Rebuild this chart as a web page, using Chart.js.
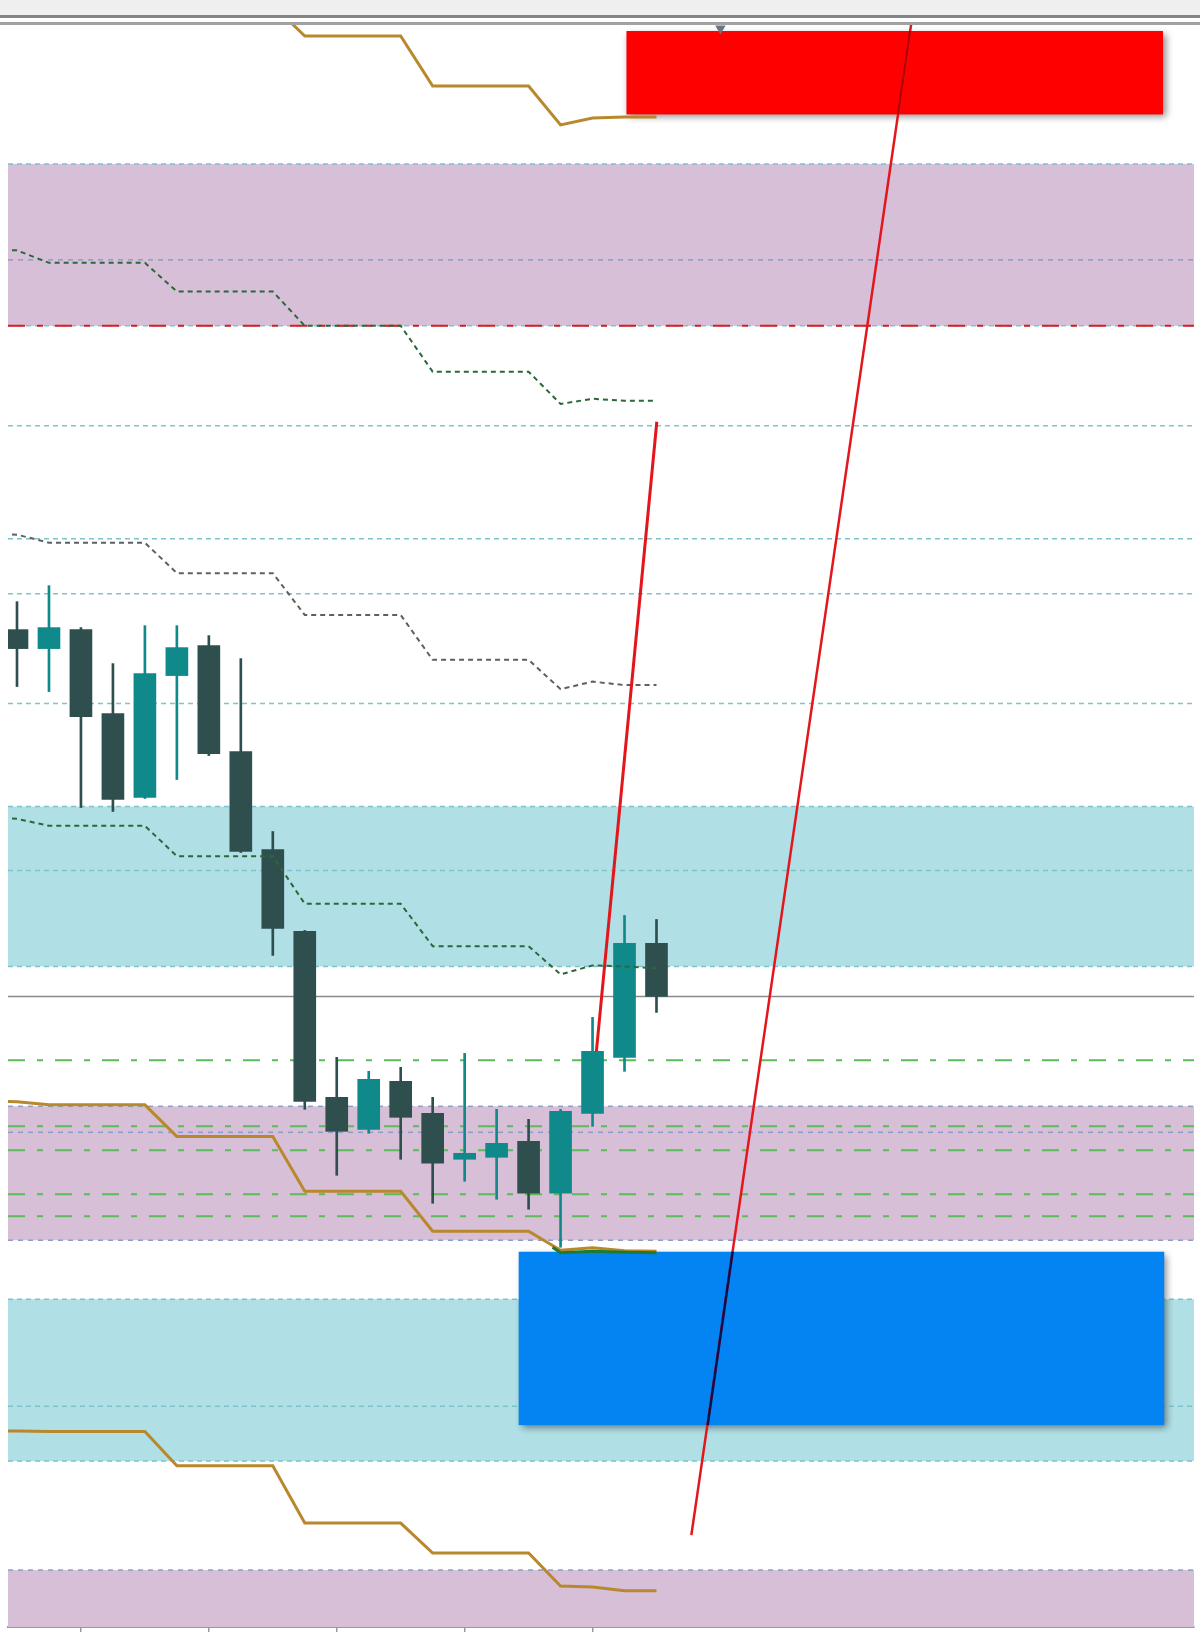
<!DOCTYPE html>
<html>
<head>
<meta charset="utf-8">
<script src="https://cdn.jsdelivr.net/npm/chart.js@4.4.1/dist/chart.umd.min.js"></script>
<style>
html,body{margin:0;padding:0;background:#fff;}
#wrap{position:relative;width:1200px;height:1633px;overflow:hidden;}
#grafica{position:absolute;left:0;top:0;}
.franja{position:absolute;left:0;width:1200px;}
</style>
</head>
<body>
<div id="wrap">
  <canvas id="grafica" width="1200" height="1633"></canvas>
  <div class="franja" style="top:0;height:15px;background:#efefef"></div>
  <div class="franja" style="top:15px;height:3px;background:#858585"></div>
  <div class="franja" style="top:18px;height:4px;background:#fff"></div>
  <div class="franja" style="top:22px;height:3px;background:#a2a2a2"></div>
</div>
<script>
// velas, barras 0..20
const bars  = [0,1,2,3,4,5,6,7,8,9,10,11,12,13,14,15,16,17,18,19,20];
const open  = [1999.8,1997.9,1999.8,1991.4,1983.0,1995.2,1998.2,1987.6,1977.8,1969.6,1953.0,1949.8,1954.6,1951.4,1946.8,1947.0,1948.6,1943.4,1951.4,1957.0,1968.4];
const high  = [2002.6,2004.2,2000.0,1996.4,2000.2,2000.2,1999.2,1996.9,1979.6,1969.7,1957.0,1955.6,1956.0,1953.0,1957.4,1951.8,1950.8,1951.8,1961.0,1971.2,1970.8];
const low   = [1994.1,1993.6,1982.0,1981.6,1982.9,1984.8,1987.2,1977.5,1967.2,1951.8,1945.2,1949.4,1946.8,1942.4,1944.6,1942.8,1941.8,1938.0,1950.1,1955.6,1961.5];
const close = [1997.9,2000.0,1991.1,1982.8,1995.4,1998.0,1987.4,1977.6,1969.9,1952.6,1949.6,1954.8,1951.0,1946.4,1947.4,1948.4,1943.4,1951.6,1957.6,1968.4,1963.1];

// lineas escalonadas, barras -1..20
const stepBars = [-1,0,1,2,3,4,5,6,7,8,9,10,11,12,13,14,15,16,17,18,19,20];
const goldTop   = [2066.5,2066.2,2065.6,2065.6,2065.6,2065.6,2062.3,2062.3,2062.3,2062.3,2059.2,2059.2,2059.2,2059.2,2054.2,2054.2,2054.2,2054.2,2050.3,2051.0,2051.1,2051.1];
const greenUp   = [2037.85,2037.75,2036.5,2036.5,2036.5,2036.5,2033.63,2033.63,2033.63,2033.63,2030.2,2030.2,2030.2,2030.2,2025.61,2025.61,2025.61,2025.61,2022.38,2022.9,2022.7,2022.7];
const greyMid   = [2009.4,2009.3,2008.5,2008.5,2008.5,2008.5,2005.45,2005.45,2005.45,2005.45,2001.27,2001.27,2001.27,2001.27,1996.78,1996.78,1996.78,1996.78,1993.84,1994.6,1994.25,1994.25];
const greenLow  = [1981.0,1980.87,1980.17,1980.17,1980.17,1980.17,1977.13,1977.13,1977.13,1977.13,1972.37,1972.37,1972.37,1972.37,1968.13,1968.13,1968.13,1968.13,1965.3,1966.2,1966.1,1965.9];
const goldMid   = [1952.7,1952.55,1952.25,1952.25,1952.25,1952.25,1949.07,1949.07,1949.07,1949.07,1943.6,1943.6,1943.6,1943.6,1939.6,1939.6,1939.6,1939.6,1937.7,1937.95,1937.65,1937.6];
const goldLow   = [1919.6,1919.6,1919.57,1919.57,1919.57,1919.57,1916.13,1916.13,1916.13,1916.13,1910.4,1910.4,1910.4,1910.4,1907.4,1907.4,1907.4,1907.4,1904.1,1904.0,1903.63,1903.63];
const greenSolidBars = [16.75,17,18,19,20];
const greenSolid     = [1938.0,1937.45,1937.6,1937.5,1937.45];

// niveles horizontales
const cyanLevels  = [2046.4,2030.2,2020.2,2008.9,2003.4,1992.4,1982.1,1975.7,1966.1,1932.8,1922.1,1916.6];
const slateLevels = [2036.8,1952.1,1949.5,1938.7,1905.7];
const greenLevels = [1956.7,1950.1,1947.7,1943.3,1941.1];
const redLevels   = [2030.2];
const lastPrice   = 1963.1;

// zonas
const purpleTop = [2046.4,1952.1,1905.7];
const purpleBot = [2030.2,1938.7,1900.0];
const cyanTop   = [1982.1,1932.8];
const cyanBot   = [1966.1,1916.6];

// cajas (venta / compra)
const boxKind  = ['sell','buy'];
const boxFrom  = [19.06,15.69];
const boxTo    = [35.84,35.88];
const boxHigh  = [2059.7,1937.55];
const boxLow   = [2051.35,1920.2];

// lineas de tendencia
const trendLongX   = [27.97,21.09];
const trendLongY   = [2060.5,1909.2];
const trendInBlueX = [22.38,21.6];
const trendInBlueY = [1937.55,1920.2];
const trendInRedX  = [27.93,27.55];
const trendInRedY  = [2059.7,2051.35];
const trendShortX  = [20.01,18.12];
const trendShortY  = [2020.6,1957.6];

const markerX = [22.0];
const markerY = [2059.95];

const xTicks = [2,6,10,14,18];
const xMin = -0.28125, xMax = 36.81;
const yMin = 1900.0, yMax = 2060.3;

const BULL = '#10898b', BEAR = '#2f4f4f';

function pts(xs, ys){ return xs.map((x,i)=>({x:x, y:ys[i]})); }
function flat(v){ return [{x:xMin,y:v},{x:xMax,y:v}]; }

const datasets = [];
function hline(v, color, width, dash, order){
  datasets.push({type:'line', data:flat(v), borderColor:color, borderWidth:width, borderDash:dash,
    pointRadius:0, order:order});
}
cyanLevels.forEach(v=>hline(v,'#7cc4cd',1.5,[5,4],9));
slateLevels.forEach(v=>hline(v,'#8f9cc4',1.5,[5,5],9));
greenLevels.forEach(v=>hline(v,'#5cba5c',2,[17,12,6,12],8));
redLevels.forEach(v=>hline(v,'#d81e1e',2,[17,12,6,12],7));
hline(lastPrice,'#8a8a8a',1.5,[],7);

// mechas y cuerpos
const cols = bars.map(i=> close[i] >= open[i] ? BULL : BEAR);
datasets.push({type:'bar', data:bars.map(i=>({x:i, y:[low[i],high[i]]})), backgroundColor:cols,
  barThickness:2, grouped:false, borderWidth:0, order:4, boxesBelow:true});
datasets.push({type:'bar', data:bars.map(i=>({x:i, y:[Math.min(open[i],close[i]),Math.max(open[i],close[i])]})),
  backgroundColor:cols, barThickness:22, grouped:false, borderWidth:0, order:3});

function stepLine(ys, color, width, dash){
  datasets.push({type:'line', data:pts(stepBars, ys), borderColor:color, borderWidth:width, borderDash:dash,
    pointRadius:0, tension:0, order:2});
}
stepLine(goldTop,'#b8882c',3,[]);
stepLine(greenUp,'#2a6838',2,[5,4]);
stepLine(greyMid,'#5f5f5f',2,[5,4]);
stepLine(greenLow,'#2a6838',2,[5,4]);
stepLine(goldMid,'#b8882c',3,[]);
stepLine(goldLow,'#b8882c',3,[]);
datasets.push({type:'line', data:pts(greenSolidBars, greenSolid), borderColor:'#1f7a2f', borderWidth:3,
  pointRadius:0, order:1});

function trend(xs, ys, color, width, order){
  datasets.push({type:'line', data:pts(xs, ys), borderColor:color, borderWidth:width, pointRadius:0, order:order});
}
trend(trendLongX, trendLongY, '#e3161b', 2.5, 0);
trend(trendShortX, trendShortY, '#e3161b', 3, 0);
// tramos del trazo que quedan encima de las cajas
trend(trendInBlueX, trendInBlueY, '#0b1150', 2.5, -1);
trend(trendInRedX, trendInRedY, '#b00000', 2, -1);
datasets.push({type:'scatter', data:pts(markerX, markerY), pointStyle:'triangle', rotation:180,
  pointRadius:6, backgroundColor:'#6b7682', borderWidth:0, order:-1, clip:false});

const zonas = {
  id:'zonas',
  beforeDatasetsDraw(chart){
    const {ctx, chartArea:a, scales:{y}} = chart;
    ctx.save();
    const fillZone = (t,b,color)=>{
      const y1 = y.getPixelForValue(t), y2 = y.getPixelForValue(b);
      ctx.fillStyle = color;
      ctx.fillRect(a.left, y1, a.right-a.left, y2-y1);
    };
    purpleTop.forEach((t,i)=>fillZone(t,purpleBot[i],'#d7bfd8'));
    cyanTop.forEach((t,i)=>fillZone(t,cyanBot[i],'#b0dfe5'));
    ctx.restore();
  },
  beforeDatasetDraw(chart, args){
    if(!chart.data.datasets[args.index].boxesBelow) return;
    const {ctx, chartArea:a, scales:{x,y}} = chart;
    ctx.save();
    ctx.beginPath(); ctx.rect(a.left, a.top, a.right-a.left, a.bottom-a.top); ctx.clip();
    ctx.shadowColor = 'rgba(0,0,0,0.45)';
    ctx.shadowBlur = 7; ctx.shadowOffsetX = 3; ctx.shadowOffsetY = 3;
    boxKind.forEach((k,i)=>{
      const x1 = x.getPixelForValue(boxFrom[i]), x2 = x.getPixelForValue(boxTo[i]);
      const y1 = y.getPixelForValue(boxHigh[i]), y2 = y.getPixelForValue(boxLow[i]);
      ctx.fillStyle = k === 'sell' ? '#ff0000' : '#0384f2';
      ctx.fillRect(x1, y1, x2-x1, y2-y1);
    });
    ctx.restore();
  }
};

const grafica = new Chart(document.getElementById('grafica'), {
  type:'line',
  data:{datasets:datasets},
  options:{
    responsive:false, animation:false, devicePixelRatio:1, events:[],
    layout:{padding:{left:8, top:25, right:0, bottom:0}},
    plugins:{legend:{display:false}, tooltip:{enabled:false}},
    scales:{
      x:{type:'linear', min:xMin, max:xMax, offset:false,
         afterBuildTicks:(s)=>{ s.ticks = xTicks.map(v=>({value:v})); },
         ticks:{display:false},
         grid:{display:true, offset:false, drawOnChartArea:false, drawTicks:true, tickLength:5, color:'#9a9a9a', lineWidth:1.5},
         border:{display:true, color:'#9a9a9a', width:2}},
      y:{type:'linear', min:yMin, max:yMax, display:false}
    }
  },
  plugins:[zonas]
});
</script>
</body>
</html>
